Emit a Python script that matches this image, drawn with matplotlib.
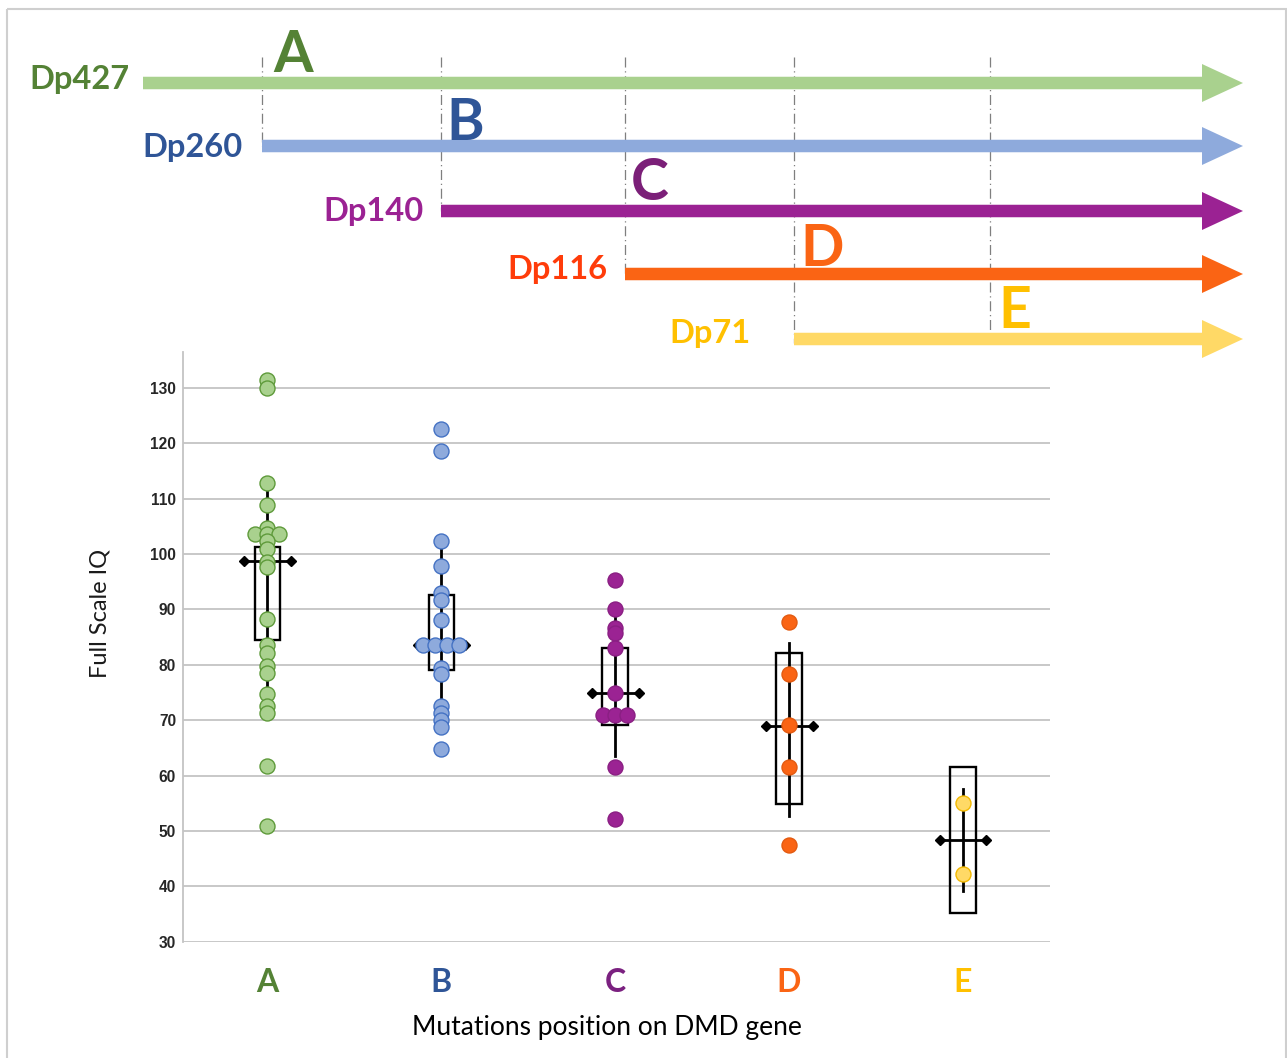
import matplotlib
matplotlib.use('Agg')
import matplotlib.pyplot as plt
import numpy as np
from matplotlib.patches import FancyArrow, Rectangle

# ---------------- data ----------------
groups = ['A', 'B', 'C', 'D', 'E']
iq_A = [131.5, 130.0, 112.8, 108.9, 104.7, 103.6, 103.6, 103.6, 102.4, 101.0,
        98.6, 97.6, 88.3, 83.5, 82.1, 79.8, 78.6, 74.7, 72.6, 71.3, 61.8, 50.9]
iq_B = [122.6, 118.7, 102.3, 97.8, 93.0, 91.7, 88.1, 83.6, 83.6, 83.6, 83.6,
        79.5, 78.4, 72.5, 71.3, 70.0, 68.8, 64.8]
iq_C = [95.3, 90.0, 86.7, 85.8, 83.1, 75.0, 71.0, 71.0, 71.0, 61.6, 52.1]
iq_D = [87.7, 78.4, 69.2, 61.6, 47.5]
iq_E = [55.1, 42.2]
box_low = [84.5, 79.0, 69.1, 54.9, 35.1]
box_high = [101.2, 92.7, 83.1, 82.2, 61.6]
whisk_low = [72.0, 72.0, 63.6, 52.7, 39.1]
whisk_high = [112.8, 101.3, 89.0, 83.9, 57.5]
means = [98.7, 83.6, 75.0, 69.0, 48.3]
yticks = [30, 40, 50, 60, 70, 80, 90, 100, 110, 120, 130]

isoforms = ['Dp427', 'Dp260', 'Dp140', 'Dp116', 'Dp71']
region_letters = ['A', 'B', 'C', 'D', 'E']

# ---------------- styles ----------------
face_cols = ['#a9d18e', '#8eaadc', '#9b2393', '#fa6414', '#ffd966']
edge_cols = ['#5e9a3a', '#4472c4', '#8a1f83', '#e35a10', '#f2b800']
label_cols = ['#548235', '#2f5597', '#7b2180', '#fa6414', '#ffc000']
iso_line_cols = ['#a9d18e', '#8eaadc', '#9b2293', '#fa6414', '#ffd966']
iso_text_cols = ['#548235', '#2f5597', '#9b2293', '#ff3c0a', '#ffc000']
letter_cols = ['#548235', '#2f5597', '#7b1f78', '#fa6414', '#ffc000']

W, H = 1287, 1058
fig = plt.figure(figsize=(W / 100, H / 100), dpi=100)
FONT = ['Lato', 'DejaVu Sans']

# ---------------- top schematic (pixel coordinates) ----------------
ov = fig.add_axes([0, 0, 1, 1], facecolor='none')
ov.set_xlim(0, W)
ov.set_ylim(H, 0)
ov.axis('off')

ov.add_patch(Rectangle((7, 9), 1279, 1060, fill=False, ec='#cfcfcf', lw=1.5))

iso_start = [143, 262, 441, 625, 794]
iso_y = [83, 146, 211, 274, 339]
arrow_end = 1243
label_x = [130, 243, 424, 607, 750]
label_y = [80, 147, 212, 270, 334]
dash_x = [262, 441, 625, 794, 990]
dash_bottom = [146, 211, 274, 343, 343]
letter_x = [273, 446, 631, 800, 998]
letter_base = [72, 140, 200, 266, 328]

for i, name in enumerate(isoforms):
    ov.add_patch(FancyArrow(iso_start[i], iso_y[i], arrow_end - iso_start[i], 0,
                            width=12.5, head_width=38, head_length=41,
                            length_includes_head=True, color=iso_line_cols[i],
                            lw=0, zorder=2))
    ov.text(label_x[i], label_y[i], name, ha='right', va='center',
            fontsize=23.5, fontweight='bold', color=iso_text_cols[i],
            family=FONT, zorder=3)

for i, L in enumerate(region_letters):
    ov.plot([dash_x[i], dash_x[i]], [57, dash_bottom[i]], color='#7f7f7f',
            lw=0.9, ls=(0, (8, 3, 1, 3)), zorder=1)
    ov.text(letter_x[i], letter_base[i], L, ha='left', va='baseline',
            fontsize=41, fontweight='bold', color=letter_cols[i],
            family=FONT, zorder=3)

# ---------------- lower plot ----------------
left, right, top, bottom = 183, 1050, 352, 941.7
ax = fig.add_axes([left / W, 1 - bottom / H, (right - left) / W, (bottom - top) / H])
ax.set_facecolor('none')
ax.set_xlim(-0.483, 4.5)
ax.set_ylim(30, 136.5)

for v in yticks:
    ax.axhline(v, color='#c4c4c4', lw=1.3, zorder=0)
for s in ['top', 'right', 'bottom']:
    ax.spines[s].set_visible(False)
ax.spines['left'].set_color('#c4c4c4')
ax.spines['left'].set_linewidth(1.3)

ax.set_yticks(yticks)
ax.set_yticklabels([str(v) for v in yticks], fontsize=11.2, fontweight='bold',
                   family=['Liberation Sans', 'DejaVu Sans'], color='#262626')
ax.tick_params(axis='y', length=0, pad=5)
ax.set_xticks(range(len(groups)))
ax.set_xticklabels(groups, fontsize=23, fontweight='bold', family=FONT)
for t, c in zip(ax.get_xticklabels(), label_cols):
    t.set_color(c)
ax.tick_params(axis='x', length=0, pad=19)

data = [iq_A, iq_B, iq_C, iq_D, iq_E]
box_hw = 0.072
mean_hw = 0.135
step = 0.068


def swarm_offsets(vals):
    vals = np.asarray(vals, float)
    offs = np.zeros(len(vals))
    used = np.zeros(len(vals), bool)
    for i in range(len(vals)):
        if used[i]:
            continue
        idx = [j for j in range(len(vals)) if not used[j] and abs(vals[j] - vals[i]) < 0.05]
        n = len(idx)
        for k, j in enumerate(idx):
            offs[j] = (k - (n - 1) / 2) * step
            used[j] = True
    return offs


for i, vals in enumerate(data):
    ax.add_patch(Rectangle((i - box_hw, box_low[i]), 2 * box_hw,
                           box_high[i] - box_low[i], fill=False, ec='black',
                           lw=1.7, zorder=2))
    ax.plot([i, i], [whisk_low[i], whisk_high[i]], color='black', lw=2.0, zorder=2)
    ax.plot([i - mean_hw, i + mean_hw], [means[i], means[i]], color='black',
            lw=2.0, marker='D', ms=5, zorder=2)
    offs = swarm_offsets(vals)
    ax.plot(i + offs, vals, ls='none', marker='o', ms=10.8,
            mfc=face_cols[i], mec=edge_cols[i], mew=1.0, zorder=3)

fig.text(100 / W, 1 - 613 / H, 'Full Scale IQ', rotation=90, ha='center',
         va='center', fontsize=17, family=FONT, color='#1a1a1a')
fig.text(607 / W, 1 - 1028 / H, 'Mutations position on DMD gene', ha='center',
         va='center', fontsize=19, family=FONT, color='black')

fig.savefig('out.png', dpi=100)
